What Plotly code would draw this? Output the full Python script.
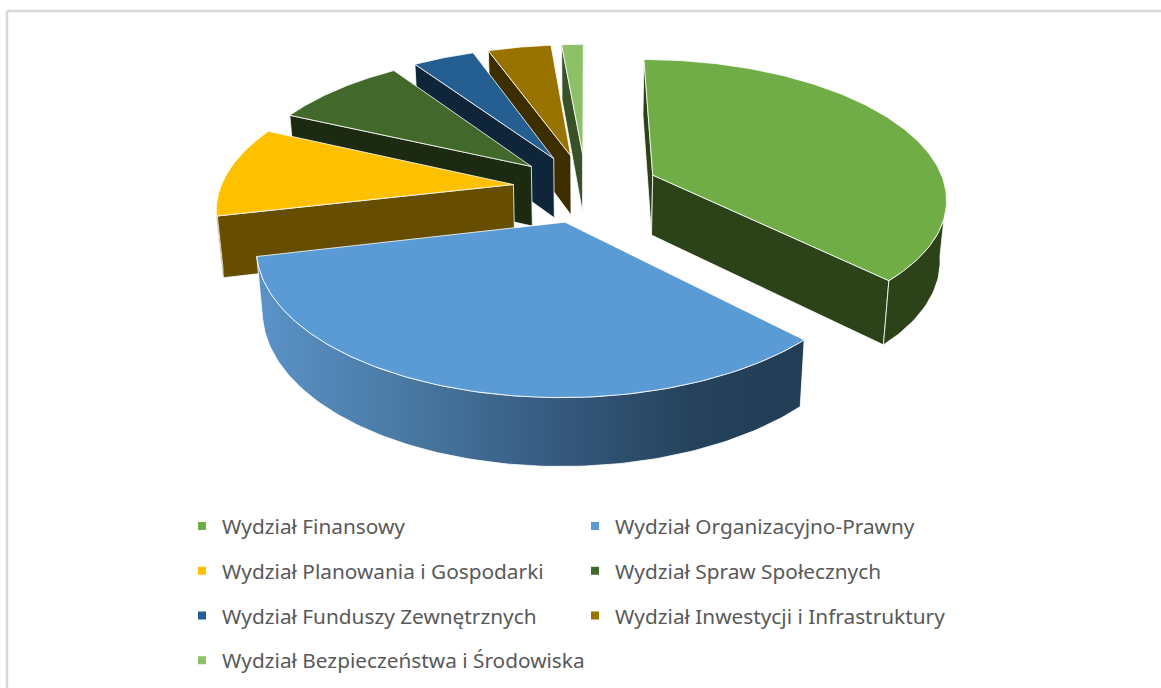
import numpy as np
import plotly.graph_objects as go

# ---- data (share of the pie, %) ----
names = ["Wydział Finansowy", "Wydział Organizacyjno-Prawny", "Wydział Planowania i Gospodarki",
         "Wydział Spraw Społecznych", "Wydział Funduszy Zewnętrznych",
         "Wydział Inwestycji i Infrastruktury", "Wydział Bezpieczeństwa i Środowiska"]
values = [37.4, 33.75, 10.4, 8.6, 4.0, 4.1, 1.4]
top_colors = ["#70AD47", "#5B9BD5", "#FFC000", "#43682B", "#255E91", "#997300", "#8CC168"]
side_colors = ["#2C4319", "#24405A", "#664D00", "#1B2A11", "#0F253A", "#3D2E00", "#385127"]

# ---- 3D look of the exploded pie ----
CX, Y0, HORIZON = 586.0, 188.0, -707.0
PERSP, RAD, EXPLODE = 0.153, 293.0, 0.25
SQUEEZE = 0.982
EYE_Y = -8.0


def project(X, Y):
    w = 1 + PERSP * np.asarray(Y)
    return CX + RAD * np.asarray(X) / w, HORIZON + (Y0 - HORIZON) / w


def drop(sx, sy):
    sx, sy = np.asarray(sx), np.asarray(sy)
    return CX + SQUEEZE * (sx - CX), sy + 60 + 0.04 * (sy - 175)


def poly(fig, xs, ys, color, gradient=None):
    kw = dict(x=np.append(xs, xs[0]), y=np.append(ys, ys[0]), mode="lines", fill="toself",
              fillcolor=color, line=dict(color="rgba(255,255,255,0.8)", width=1),
              hoverinfo="skip", showlegend=False)
    if gradient:
        kw["fillgradient"] = dict(type="horizontal", colorscale=gradient)
    fig.add_trace(go.Scatter(**kw))


def faces_eye(nx, ny, px, py):
    return nx * (0 - px) + ny * (EYE_Y - py) > 0


fig = go.Figure()
total = sum(values)
edges = np.cumsum([0] + values) / total * 2 * np.pi
BLUE_GRADIENT = [[0, "#5B93C9"], [0.3, "#47769F"], [0.55, "#36597E"], [0.8, "#25425C"], [1, "#223D55"]]

# painter's order: back slices first, large front slice last
for i in [6, 5, 4, 3, 2, 0, 1]:
    a0, a1 = edges[i], edges[i + 1]
    mid = (a0 + a1) / 2
    ox, oy = EXPLODE * np.sin(mid), EXPLODE * np.cos(mid)
    th = np.linspace(a0, a1, 120)
    wx, wy = ox + np.sin(th), oy + np.cos(th)
    rx, ry = project(wx, wy)
    ax, ay = map(float, project(ox, oy))
    bx, by = drop(rx, ry)
    bax, bay = map(float, drop(ax, ay))
    col = side_colors[i]
    # radial faces and the outer rim: only the parts turned to the viewer
    if faces_eye(-np.cos(a0), np.sin(a0), ox, oy):
        poly(fig, np.array([ax, rx[0], bx[0], bax]), np.array([ay, ry[0], by[0], bay]), col)
    if faces_eye(np.cos(a1), -np.sin(a1), ox, oy):
        poly(fig, np.array([ax, rx[-1], bx[-1], bax]), np.array([ay, ry[-1], by[-1], bay]), col)
    vis = faces_eye(np.sin(th), np.cos(th), wx, wy)
    if vis.any():
        poly(fig, np.concatenate([rx[vis], bx[vis][::-1]]), np.concatenate([ry[vis], by[vis][::-1]]), col,
             BLUE_GRADIENT if i == 1 else None)
    poly(fig, np.concatenate([[ax], rx]), np.concatenate([[ay], ry]), top_colors[i])

# legend entries
for i in range(len(values)):
    fig.add_trace(go.Scatter(x=[None], y=[None], mode="markers", name=names[i],
                             marker=dict(symbol="square", size=8, color=top_colors[i]),
                             legendgroup=names[i],
                             legend="legend" if i % 2 == 0 else "legend2",
                             hoverinfo="skip"))

FONT = dict(family="Noto Sans", size=20.8, color="#595959")
legend_common = dict(orientation="v", traceorder="grouped", tracegroupgap=14.7, bgcolor="rgba(0,0,0,0)",
                     borderwidth=0, font=FONT, xanchor="left", yanchor="top", yref="paper", xref="paper")
fig.update_layout(
    width=1161, height=688, margin=dict(l=0, r=0, t=0, b=0),
    paper_bgcolor="white", plot_bgcolor="white",
    xaxis=dict(range=[0, 1161], visible=False, fixedrange=True),
    yaxis=dict(range=[688, 0], visible=False, fixedrange=True),
    legend=dict(x=182 / 1161, y=1 - 506 / 688, **legend_common),
    legend2=dict(x=575 / 1161, y=1 - 506 / 688, **legend_common),
    shapes=[
        dict(type="line", xref="paper", yref="paper", x0=7 / 1161, x1=1, y0=1 - 11 / 688, y1=1 - 11 / 688,
             line=dict(color="#D9D9D9", width=2.5)),
        dict(type="line", xref="paper", yref="paper", x0=7 / 1161, x1=7 / 1161, y0=0, y1=1 - 11 / 688,
             line=dict(color="#D9D9D9", width=2.5)),
    ],
)
fig.write_html("out.html", config={"displayModeBar": False},
               post_script="document.body.style.margin='0';document.body.style.overflow='hidden';")
